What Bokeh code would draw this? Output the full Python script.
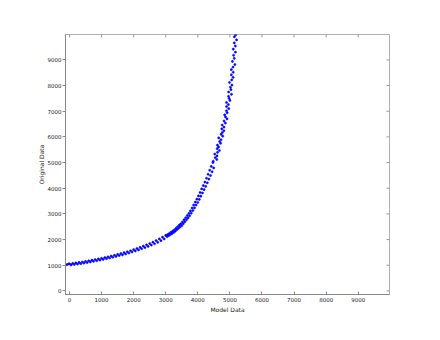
import math
from bokeh.plotting import figure
from bokeh.models import FixedTicker
from bokeh.embed import file_html
from bokeh.resources import INLINE

# ---- data ----
model_low = [-90, -40, 0, 50, 100, 150, 200, 250, 300, 350, 400, 450, 500, 550, 600, 650, 700,
             750, 800, 850, 900, 950, 1000, 1050, 1100, 1150, 1200, 1250, 1300, 1350, 1400,
             1450, 1500, 1550, 1600, 1650, 1700, 1750, 1800, 1850, 1900, 1950, 2000, 2050,
             2100, 2150, 2200, 2250, 2300, 2350, 2400, 2450, 2500, 2550, 2600, 2650, 2700,
             2750, 2800, 2850, 2900, 2950, 3000]
orig_low = [1020, 1048, 1055, 1012, 1072, 1030, 1090, 1045, 1108, 1062, 1126, 1084, 1148, 1105,
            1172, 1128, 1196, 1152, 1220, 1176, 1245, 1200, 1268, 1226, 1298, 1254, 1326, 1282,
            1355, 1312, 1390, 1345, 1422, 1376, 1455, 1405, 1488, 1438, 1524, 1476, 1565, 1515,
            1606, 1556, 1652, 1598, 1696, 1642, 1744, 1688, 1794, 1735, 1845, 1785, 1900, 1838,
            1960, 1892, 2025, 1958, 2092, 2025, 2160]

model_mid = [3020, 3045, 3070, 3095, 3120, 3145, 3170, 3195, 3220, 3245, 3270, 3295, 3320, 3345,
             3370, 3395, 3420, 3445, 3470, 3495, 3520, 3545, 3570, 3595, 3620, 3645, 3670, 3695,
             3720, 3745, 3770, 3795, 3820, 3845, 3870, 3895, 3920, 3945, 3970, 3995, 4020, 4045,
             4070, 4095, 4120, 4145, 4170, 4195, 4220, 4245, 4270, 4295, 4320, 4345, 4370, 4395,
             4420, 4445, 4470, 4495]
orig_mid = [2160, 2115, 2200, 2155, 2245, 2195, 2290, 2235, 2330, 2275, 2380, 2325, 2440, 2380,
            2500, 2435, 2560, 2490, 2615, 2540, 2685, 2615, 2770, 2690, 2850, 2770, 2935, 2845,
            3020, 2925, 3115, 3025, 3230, 3130, 3345, 3235, 3460, 3345, 3575, 3445, 3700, 3565,
            3835, 3690, 3975, 3815, 4105, 3945, 4240, 4070, 4390, 4210, 4545, 4355, 4700, 4495,
            4850, 4640, 5000, 4790]

model_high = [4481, 4592, 4543, 4599, 4529, 4615, 4674, 4603, 4647, 4611, 4710, 4679, 4723, 4652,
              4776, 4725, 4764, 4813, 4747, 4816, 4760, 4858, 4817, 4910, 4863, 4837, 4915, 4893,
              4964, 4896, 4952, 4894, 5000, 4976, 4958, 5049, 4960, 5033, 5016, 5064, 4988, 5057,
              5101, 5045, 5104, 5044, 5098, 5156, 5079, 5136, 5114, 5171, 5104, 5171, 5137, 5208,
              5139, 5178]
orig_high = [5050, 5120, 5190, 5260, 5330, 5400, 5470, 5540, 5610, 5680, 5750, 5820, 5890, 5960,
             6030, 6100, 6170, 6240, 6310, 6380, 6460, 6540, 6620, 6700, 6780, 6860, 6940, 7020,
             7100, 7180, 7260, 7340, 7420, 7500, 7580, 7660, 7750, 7840, 7930, 8020, 8120, 8220,
             8320, 8420, 8520, 8620, 8720, 8820, 8940, 9060, 9180, 9300, 9420, 9540, 9660, 9780,
             9900, 9970]

x_ticks = [0, 1000, 2000, 3000, 4000, 5000, 6000, 7000, 8000, 9000]
y_ticks = [0, 1000, 2000, 3000, 4000, 5000, 6000, 7000, 8000, 9000]

X_MIN, X_MAX = -125, 9975
Y_MIN, Y_MAX = -140, 9990

model_all = model_low + model_mid + model_high
orig_all = orig_low + orig_mid + orig_high

p = figure(width=424, height=324, x_range=(X_MIN, X_MAX), y_range=(Y_MIN, Y_MAX),
           output_backend="svg", toolbar_location=None,
           min_border_left=65, min_border_right=35, min_border_top=34, min_border_bottom=30)
p.xgrid.visible = False
p.ygrid.visible = False
p.outline_line_color = "#b0b0b0"
p.outline_line_width = 1
p.background_fill_color = "white"
p.border_fill_color = "white"

p.scatter(model_all, orig_all, size=2.2, marker="circle", fill_color="#0000ff",
          line_color="#0000ff", line_width=0.5)

# inward ticks on the top and right frame edges (no labels)
p.ray(x=x_ticks, y=[Y_MAX] * len(x_ticks), length=3, length_units="screen",
      angle=-math.pi / 2, line_color="#999999", line_width=1)
p.ray(x=[X_MAX] * len(y_ticks), y=y_ticks, length=3, length_units="screen",
      angle=math.pi, line_color="#999999", line_width=1)

tick_font = "5.5px"
lab_font = "6px"
txt_col = "#222222"

xa = p.xaxis[0]
xa.ticker = FixedTicker(ticks=x_ticks)
xa.axis_label = "Model Data"
xa.major_tick_in = 3
xa.major_tick_out = 0
xa.minor_tick_in = 0
xa.minor_tick_out = 0
xa.major_label_standoff = 2
xa.axis_label_standoff = 1
xa.major_label_text_font_size = tick_font
xa.axis_label_text_font_size = lab_font
xa.major_label_text_font = "DejaVu Sans"
xa.axis_label_text_font = "DejaVu Sans"
xa.axis_label_text_font_style = "normal"
xa.major_label_text_color = txt_col
xa.axis_label_text_color = txt_col
xa.axis_line_color = "#888888"
xa.major_tick_line_color = "#888888"

ya = p.yaxis[0]
ya.ticker = FixedTicker(ticks=y_ticks)
ya.axis_label = "Original Data"
ya.major_tick_in = 0
ya.major_tick_out = 3
ya.minor_tick_in = 0
ya.minor_tick_out = 0
ya.major_label_standoff = 1
ya.axis_label_standoff = 0
ya.major_label_text_font_size = tick_font
ya.axis_label_text_font_size = lab_font
ya.major_label_text_font = "DejaVu Sans"
ya.axis_label_text_font = "DejaVu Sans"
ya.axis_label_text_font_style = "normal"
ya.major_label_text_color = txt_col
ya.axis_label_text_color = txt_col
ya.axis_line_color = "#888888"
ya.major_tick_line_color = "#888888"

open("out.html", "w").write(file_html(p, INLINE))
